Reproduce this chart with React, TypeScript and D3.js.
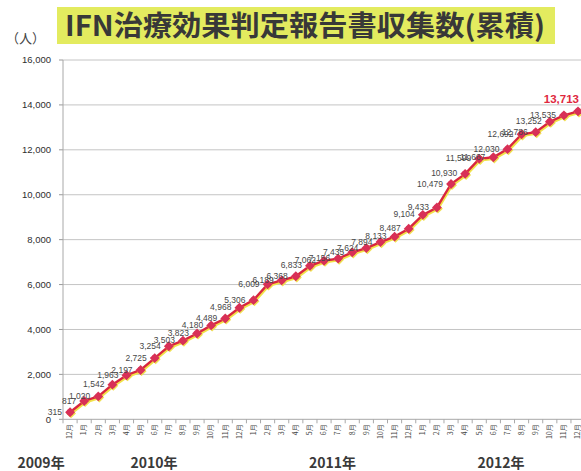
import React from "react";
import * as d3 from "d3";

// Monthly cumulative counts, Dec 2009 → Dec 2012
const months = [
  "12月",
  "1月", "2月", "3月", "4月", "5月", "6月", "7月", "8月", "9月", "10月", "11月", "12月",
  "1月", "2月", "3月", "4月", "5月", "6月", "7月", "8月", "9月", "10月", "11月", "12月",
  "1月", "2月", "3月", "4月", "5月", "6月", "7月", "8月", "9月", "10月", "11月", "12月",
];
const counts = [
  315,
  817, 1020, 1542, 1963, 2197, 2725, 3254, 3503, 3823, 4180, 4489, 4968,
  5306, 6009, 6189, 6368, 6833, 7062, 7156, 7435, 7624, 7894, 8133, 8487,
  9104, 9433, 10479, 10930, 11599, 11667, 12030, 12692, 12786, 13252, 13535, 13713,
];
const yTicks = [0, 2000, 4000, 6000, 8000, 10000, 12000, 14000, 16000];
const years = ["2009年", "2010年", "2011年", "2012年"];
// month index (fractional) under which each year caption is centred
const yearAt = [-2.05, 5.95, 18.6, 30.55];

const title = "IFN治療効果判定報告書収集数(累積)";
const unit = "（人）";

const W = 581;
const H = 471;
const left = 63;
const band = 14.11;
const top = 60;
const bottom = 419.3;

const x = d3
  .scaleBand<number>()
  .domain(d3.range(counts.length))
  .range([left, left + band * counts.length])
  .paddingInner(0)
  .paddingOuter(0);
const cx = (i: number) => (x(i) as number) + x.bandwidth() / 2;
const y = d3.scaleLinear().domain([0, 16000]).range([bottom, top]);

const fmt = d3.format(",");
const jp = "'Noto Sans CJK JP', 'Noto Sans', sans-serif";
const num = "'Liberation Sans', Arial, sans-serif";

export default function App() {
  const line = d3
    .line<number>()
    .x((_, i) => cx(i))
    .y((d) => y(d));
  const path = line(counts) || "";
  const diamond = d3.symbol().type(d3.symbolDiamond2).size(62)() || "";
  const core = d3.symbol().type(d3.symbolSquare).size(26)() || "";
  const last = counts.length - 1;

  return (
    <svg
      width={W}
      height={H}
      style={{ position: "fixed", left: 0, top: 0, background: "#fff" }}
    >
      <rect x={0} y={0} width={W} height={H} fill="#fff" />

      {/* title banner */}
      <rect x={57} y={7} width={498} height={37} fill="#e3eb5f" />
      <text
        x={65}
        y={36}
        fontFamily={jp}
        fontWeight={700}
        fontSize={28}
        fill="#383838"
        textLength={480}
        lengthAdjust="spacingAndGlyphs"
      >
        {title}
      </text>
      <text x={6} y={43} fontFamily={jp} fontSize={13} fill="#444">
        {unit}
      </text>

      {/* horizontal gridlines + y ticks */}
      {yTicks.map((t) => (
        <g key={t}>
          {t > 0 && (
            <line x1={left} x2={W} y1={y(t)} y2={y(t)} stroke="#c4c4c4" strokeWidth={1} />
          )}
          <line x1={left - 4} x2={left} y1={y(t)} y2={y(t)} stroke="#999" />
          <text
            x={51}
            y={y(t)}
            dy="0.35em"
            textAnchor="end"
            fontFamily={num}
            fontSize={9.5}
            fill="#2e2e2e"
          >
            {fmt(t)}
          </text>
        </g>
      ))}

      {/* axes */}
      <line x1={left} x2={left} y1={top} y2={bottom} stroke="#a8a8a8" />
      <line x1={left} x2={W} y1={bottom} y2={bottom} stroke="#a8a8a8" />
      {d3.range(counts.length + 1).map((i) => (
        <line
          key={i}
          x1={left + i * band}
          x2={left + i * band}
          y1={bottom}
          y2={bottom + 4}
          stroke="#a8a8a8"
        />
      ))}

      {/* month labels */}
      {months.map((m, i) => (
        <text
          key={i}
          transform={`translate(${cx(i)},${bottom + 5}) rotate(-90)`}
          textAnchor="end"
          dy="0.33em"
          fontFamily={jp}
          fontSize={7}
          fill="#444"
        >
          {m}
        </text>
      ))}

      {/* year captions */}
      {years.map((yr, k) => (
        <text
          key={yr}
          x={left + band * (yearAt[k] + 0.5)}
          y={468}
          textAnchor="middle"
          fontFamily={jp}
          fontWeight={700}
          fontSize={14}
          fill="#3a3a3a"
        >
          {yr}
        </text>
      ))}

      {/* series */}
      <path
        d={path}
        fill="none"
        stroke="#f1e34a"
        strokeWidth={2.5}
        transform="translate(1,1.5)"
      />
      <path d={path} fill="none" stroke="#d8263e" strokeWidth={2.4} />
      {counts.map((v, i) => (
        <g key={i} transform={`translate(${cx(i)},${y(v)})`}>
          <path d={diamond} fill="#f0e050" transform="translate(1,1.2)" />
          <path d={diamond} fill="#d83057" />
          <path d={core} fill="#d83057" />
        </g>
      ))}

      {/* value labels */}
      {counts.map((v, i) =>
        i === last ? (
          <text
            key={i}
            x={cx(i) + 1}
            y={y(v) - 12}
            dy="0.35em"
            textAnchor="end"
            fontFamily={num}
            fontWeight={700}
            fontSize={11.5}
            fill="#e0283e"
          >
            {fmt(v)}
          </text>
        ) : (
          <text
            key={i}
            x={cx(i) - 8}
            y={y(v)}
            dy="0.3em"
            textAnchor="end"
            fontFamily={num}
            fontSize={8.5}
            fill="#474747"
          >
            {fmt(v)}
          </text>
        )
      )}
    </svg>
  );
}
